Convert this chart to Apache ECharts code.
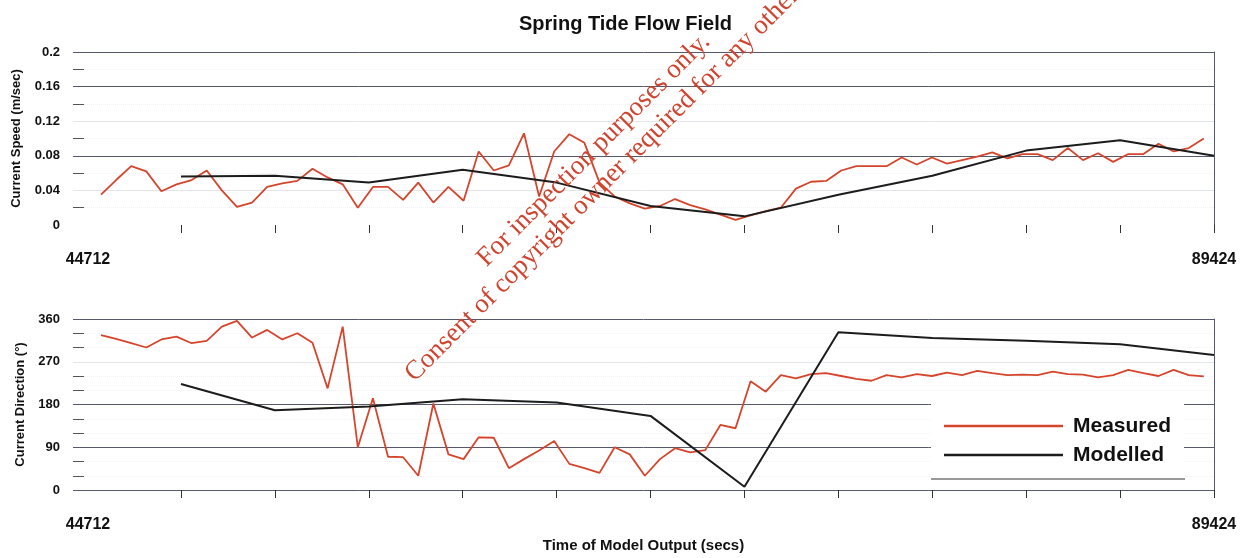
<!DOCTYPE html>
<html>
<head>
<meta charset="utf-8">
<title>Spring Tide Flow Field</title>
<script src="https://cdn.jsdelivr.net/npm/echarts@6/dist/echarts.min.js"></script>
<style>
  html, body { margin: 0; padding: 0; background: #fff; }
  #main { width: 1251px; height: 558px; }
</style>
</head>
<body>
<div id="main"></div>
<script>
// time of each measured sample (secs)
const measuredTimes = [
  45809, 46401, 46993, 47585, 48177, 48769, 49361, 49953, 50545, 51137,
  51729, 52321, 52913, 53505, 54097, 54689, 55281, 55873, 56465, 57057,
  57649, 58241, 58833, 59425, 60017, 60609, 61201, 61793, 62385, 62977,
  63569, 64161, 64753, 65345, 65937, 66529, 67121, 67713, 68305, 68897,
  69489, 70081, 70673, 71265, 71857, 72449, 73041, 73633, 74225, 74817,
  75409, 76001, 76593, 77185, 77777, 78369, 78961, 79553, 80145, 80737,
  81329, 81921, 82513, 83105, 83697, 84289, 84881, 85473, 86065, 86657,
  87249, 87841, 88433, 89025
];
// model output times (secs)
const modelTimes = [48944, 52624, 56304, 59984, 63664, 67344, 71024, 74704, 78384, 82064, 85744, 89424];

const measuredSpeed = [
  0.035, 0.052, 0.068, 0.062, 0.039, 0.047, 0.052, 0.063, 0.040, 0.021,
  0.026, 0.044, 0.048, 0.051, 0.065, 0.055, 0.047, 0.020, 0.044, 0.044,
  0.029, 0.049, 0.026, 0.044, 0.028, 0.085, 0.063, 0.069, 0.106, 0.033,
  0.085, 0.105, 0.095, 0.049, 0.033, 0.025, 0.019, 0.022, 0.030, 0.023,
  0.018, 0.012, 0.006, 0.011, 0.016, 0.020, 0.042, 0.050, 0.051, 0.063,
  0.068, 0.068, 0.068, 0.078, 0.070, 0.078, 0.071, 0.075, 0.079, 0.084,
  0.077, 0.082, 0.082, 0.075, 0.089, 0.075, 0.083, 0.073, 0.082, 0.082,
  0.094, 0.085, 0.089, 0.100
];
const modelSpeed = [0.056, 0.057, 0.049, 0.064, 0.049, 0.022, 0.010, 0.035, 0.057, 0.086, 0.098, 0.080];

const measuredDir = [
  326, 318, 309, 300, 317, 323, 309, 314, 344, 356,
  321, 337, 317, 330, 310, 214, 344, 90, 193, 70,
  69, 30, 182, 75, 65, 111, 110, 46, 65, 83,
  103, 55, 46, 36, 90, 75, 30, 65, 88, 79,
  84, 137, 130, 229, 207, 242, 235, 244, 246, 240,
  234, 230, 242, 237, 244, 240, 247, 242, 251, 246,
  242, 243, 242, 249, 244, 243, 237, 242, 253, 246,
  240, 253, 242, 239
];
const modelDir = [223, 168, 176, 191, 184, 156, 7, 332, 320, 314, 307, 284];

const timeStart = 44712, timeEnd = 89424;
const timeLabels = [44712, 89424];
const tickTimes = modelTimes;

const RED = '#d5452c', BLACK = '#1c1c1c', GRID = '#55596b', FAINT = '#e3e5ee';
const FONT = '"Liberation Sans", Arial, sans-serif';

const pair = (xs, ys) => xs.map((x, i) => [x, ys[i]]);

const chart = echarts.init(document.getElementById('main'));

const xAxisBase = (gridIndex, withName) => ({
  type: 'value', gridIndex: gridIndex, min: timeStart, max: timeEnd,
  axisLine: { show: false },
  splitLine: { show: false },
  axisTick: { show: true, customValues: tickTimes, length: 8, lineStyle: { color: '#333', width: 1 } },
  axisLabel: {
    customValues: timeLabels, margin: 27,
    formatter: v => v === timeStart ? '{l|' + v + '}' : '{r|' + v + '}',
    rich: {
      l: { padding: [0, 0, 0, 30], fontSize: 16, fontWeight: 'bold', fontFamily: FONT, color: '#111' },
      r: { fontSize: 16, fontWeight: 'bold', fontFamily: FONT, color: '#111' }
    }
  },
  name: withName ? 'Time of Model Output (secs)' : '',
  nameLocation: 'middle', nameGap: 48,
  nameTextStyle: { fontSize: 15, fontWeight: 'bold', fontFamily: FONT, color: '#111' }
});

const yAxisLeft = (gridIndex, min, max, interval, minorSplit, colors, name, nameGap, fmt) => ({
  type: 'value', gridIndex: gridIndex, position: 'left', min: min, max: max, interval: interval,
  axisLine: { show: false },
  axisTick: { show: false, inside: true },
  minorTick: { show: true, splitNumber: minorSplit, length: 11, lineStyle: { color: '#555', width: 1 } },
  minorSplitLine: { show: true, lineStyle: { color: '#eef0f5', type: 'dotted' } },
  splitLine: { show: true, lineStyle: { color: colors, width: 1 } },
  axisLabel: { margin: 13, fontSize: 13, fontWeight: 'bold', fontFamily: FONT, color: '#111', formatter: fmt },
  name: name, nameLocation: 'middle', nameGap: nameGap, nameRotate: 90,
  nameTextStyle: { fontSize: 13, fontWeight: 'bold', fontFamily: FONT, color: '#111' }
});

const yAxisRight = (gridIndex, min, max) => ({
  type: 'value', gridIndex: gridIndex, position: 'right', min: min, max: max,
  axisLine: { show: true, lineStyle: { color: GRID, width: 1 } },
  axisTick: { show: false }, axisLabel: { show: false }, splitLine: { show: false }
});

const option = {
  animation: false,
  backgroundColor: '#fff',
  title: {
    text: 'Spring Tide Flow Field', left: 'center', top: 9,
    textStyle: { fontSize: 20, fontWeight: 'bold', fontFamily: FONT, color: '#111' }
  },
  legend: {
    data: [{ name: 'Measured', icon: 'rect' }, { name: 'Modelled', icon: 'rect' }],
    orient: 'vertical', left: 931, top: 395,
    padding: [20, 13, 13, 13],
    backgroundColor: '#fff',
    itemWidth: 119, itemHeight: 2.5, itemGap: 7,
    textStyle: { fontSize: 21, lineHeight: 22, fontWeight: 'bold', fontFamily: FONT, color: '#111', padding: [0, 0, 0, 5] }
  },
  grid: [
    { left: 73, right: 37, top: 52, height: 173 },
    { left: 73, right: 37, top: 319, height: 171 }
  ],
  xAxis: [xAxisBase(0, false), xAxisBase(1, true)],
  yAxis: [
    yAxisLeft(0, 0, 0.2, 0.04, 2, ['rgba(0,0,0,0)', FAINT, GRID, FAINT, GRID, GRID],
      'Current Speed (m/sec)', 50, v => String(+v.toFixed(2))),
    yAxisLeft(1, 0, 360, 90, 3, [GRID, GRID, GRID, FAINT, GRID],
      'Current Direction (°)', 46, v => String(v)),
    yAxisRight(0, 0, 0.2),
    yAxisRight(1, 0, 360)
  ],
  graphic: [
    { type: 'line', z: 10, shape: { x1: 931, y1: 479, x2: 1185, y2: 479 }, style: { stroke: '#333', lineWidth: 1 } },
    {
      type: 'text', z: 20, x: 491, y: 272, rotation: Math.PI / 4,
      style: { text: 'For inspection purposes only.', font: '27px "Liberation Serif", "Times New Roman", serif',
        fill: '#d0432e', textAlign: 'left', textVerticalAlign: 'bottom' }
    },
    {
      type: 'text', z: 20, x: 419, y: 387, rotation: Math.PI / 4,
      style: { text: 'Consent of copyright owner required for any other use.', font: '27px "Liberation Serif", "Times New Roman", serif',
        fill: '#d0432e', textAlign: 'left', textVerticalAlign: 'bottom' }
    }
  ],
  series: [
    { name: 'Measured', type: 'line', xAxisIndex: 0, yAxisIndex: 0, data: pair(measuredTimes, measuredSpeed),
      symbol: 'none', color: RED, lineStyle: { width: 1.8, color: RED }, z: 2 },
    { name: 'Modelled', type: 'line', xAxisIndex: 0, yAxisIndex: 0, data: pair(modelTimes, modelSpeed),
      symbol: 'none', color: BLACK, lineStyle: { width: 2, color: BLACK }, z: 3 },
    { name: 'Measured', type: 'line', xAxisIndex: 1, yAxisIndex: 1, data: pair(measuredTimes, measuredDir),
      symbol: 'none', color: RED, lineStyle: { width: 1.8, color: RED }, z: 2 },
    { name: 'Modelled', type: 'line', xAxisIndex: 1, yAxisIndex: 1, data: pair(modelTimes, modelDir),
      symbol: 'none', color: BLACK, lineStyle: { width: 2, color: BLACK }, z: 3 }
  ]
};

chart.setOption(option);
window.addEventListener('resize', function () { chart.resize(); });
</script>
</body>
</html>
